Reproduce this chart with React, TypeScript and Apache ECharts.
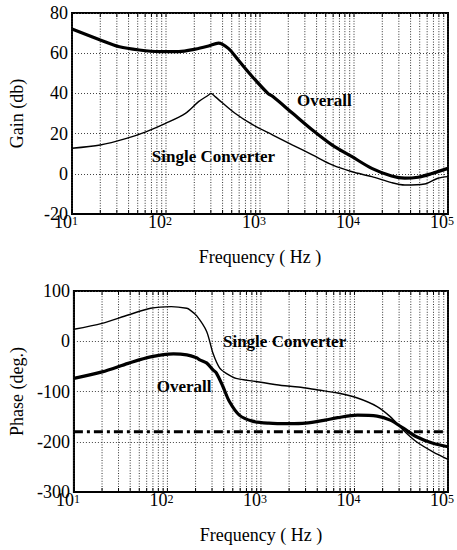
import React, { useEffect, useRef } from "react";
import * as echarts from "echarts";

// ---- data ----
const gainOverall: [number, number][] = [
  [10, 72], [20, 66.6], [32, 63.2], [52, 61.6], [84, 60.8], [137, 60.8], [205, 62],
  [284, 63.6], [361, 65], [460, 62.4], [587, 56.6], [830, 48.3], [1213, 40], [1370, 38.4],
  [2225, 30.1], [3610, 21.8], [5870, 14.3], [9530, 8.5], [15460, 2.7], [25100, -1.1],
  [34700, -2.2], [48000, -1.7], [66200, 0], [100000, 2.7],
];
const gainSingle: [number, number][] = [
  [10, 12.7], [20, 14.3], [38, 17.6], [61, 20.9], [99, 25.1], [161, 30.1], [222, 35.9],
  [284, 39.2], [300, 40], [333, 38.4], [542, 30.1], [843, 24.3], [1370, 19.3], [2225, 14.3],
  [3610, 9.4], [5870, 4.4], [9530, 1.0], [15460, -1.4], [25100, -4.4], [34700, -5.6],
  [56300, -5.1], [78000, -2.2], [100000, -1.4],
];
const phaseSingle: [number, number][] = [
  [10, 23.8], [20, 35.7], [38, 52.2], [66, 65.6], [110, 69], [161, 65.6], [175, 62],
  [205, 51], [262, 20], [307, -24], [361, -53], [425, -64], [542, -74], [879, -80],
  [1663, -88], [2512, -91], [4077, -97], [6620, -103], [10760, -113], [17460, -130],
  [24100, -150], [33300, -177], [46000, -200], [69000, -220], [100000, -235],
];
const phaseOverall: [number, number][] = [
  [10, -74], [20, -61], [38, -44], [66, -31], [116, -25], [161, -27], [205, -33], [222, -37],
  [262, -43], [307, -57], [333, -63], [392, -90], [460, -120], [587, -147], [810, -159],
  [1213, -163], [1972, -164], [2980, -163], [4830, -157], [6620, -152], [10760, -147],
  [17460, -149], [24100, -157], [33300, -173], [46000, -190], [69000, -203], [100000, -210],
];
const phaseMarginLine: [number, number][] = [[10, -180], [100000, -180]];

const decades = [10, 100, 1000, 10000];
const multipliers = [1, 2, 3, 4, 5, 6, 7, 8, 9];
const gridFreqs: number[] = [];
decades.forEach((d) => multipliers.forEach((m) => gridFreqs.push(d * m)));
gridFreqs.push(100000);

const gainRange = { min: -20, max: 80, interval: 20 };
const phaseRange = { min: -300, max: 100, interval: 100 };

const FONT = "'Liberation Serif', 'Times New Roman', serif";

export default function App() {
  const ref = useRef<HTMLDivElement>(null);
  useEffect(() => {
    if (!ref.current) return;
    const chart = echarts.init(ref.current, undefined, { renderer: "svg" });

    const xLabel = {
      margin: 1,
      padding: [0, 12, 0, 0],
      formatter: (v: number) => `{a|10}{s|${Math.round(Math.log10(v))}}`,
      rich: {
        a: { fontSize: 18, fontFamily: FONT, color: "#000", lineHeight: 14 },
        s: { fontSize: 12, fontFamily: FONT, color: "#000", verticalAlign: "top", lineHeight: 9 },
      },
    };
    const xAxisBase = (gridIndex: number) => ({
      type: "log",
      logBase: 10,
      min: 10,
      max: 100000,
      gridIndex,
      axisLine: { show: true, onZero: false, lineStyle: { color: "#000", width: 2 } },
      axisTick: { show: false },
      splitLine: { show: false },
      axisLabel: xLabel,
      name: "Frequency ( Hz )",
      nameLocation: "middle",
      nameGap: 34,
      nameTextStyle: { fontFamily: FONT, fontSize: 18, color: "#000" },
    });
    const yAxisBase = (gridIndex: number, r: any, name: string) => ({
      type: "value",
      gridIndex,
      min: r.min,
      max: r.max,
      interval: r.interval,
      axisLine: { show: true, lineStyle: { color: "#000", width: 2 } },
      axisTick: { show: false },
      splitLine: { show: true, lineStyle: { color: "#444", width: 1, type: [1, 2] } },
      axisLabel: { fontFamily: FONT, fontSize: 18, color: "#000", margin: 4, lineHeight: 14 },
      name,
      nameLocation: "middle",
      nameGap: 46,
      nameTextStyle: { fontFamily: FONT, fontSize: 18, color: "#000" },
    });

    const gridLines = (idx: number) => ({
      type: "custom",
      xAxisIndex: idx,
      yAxisIndex: idx,
      silent: true,
      z: 1,
      data: gridFreqs.map((f) => [f, 0]),
      encode: { x: 0, y: 1 },
      renderItem: (params: any, api: any) => {
        const x = api.coord([api.value(0), 0])[0];
        const cs = params.coordSys;
        return {
          type: "group",
          children: [
            {
              type: "line",
              shape: { x1: x, y1: cs.y, x2: x, y2: cs.y + cs.height },
              style: { stroke: "#333", lineWidth: 1, lineDash: [1, 1.6] },
            },
            {
              type: "line",
              shape: { x1: x, y1: cs.y, x2: x, y2: cs.y + 4 },
              style: { stroke: "#000", lineWidth: 1 },
            },
            {
              type: "line",
              shape: { x1: x, y1: cs.y + cs.height - 4, x2: x, y2: cs.y + cs.height },
              style: { stroke: "#000", lineWidth: 1 },
            },
          ],
        };
      },
    });

    const labelStyle = {
      show: true,
      position: "inside",
      fontFamily: FONT,
      fontWeight: "bold",
      fontSize: 17,
      color: "#000",
    };
    const note = (text: string, coord: [number, number]) => ({
      coord,
      symbol: "circle",
      symbolSize: 0,
      label: { ...labelStyle, formatter: text },
    });

    chart.setOption({
      animation: false,
      backgroundColor: "#fff",
      grid: [
        { left: 72, top: 13, right: 5, height: 201, show: true, borderColor: "#000", borderWidth: 2, backgroundColor: "transparent" },
        { left: 72, top: 291, right: 5, height: 201, show: true, borderColor: "#000", borderWidth: 2, backgroundColor: "transparent" },
      ],
      xAxis: [xAxisBase(0), xAxisBase(1)],
      yAxis: [yAxisBase(0, gainRange, "Gain (db)"), yAxisBase(1, phaseRange, "Phase (deg.)")],
      series: [
        gridLines(0),
        gridLines(1),
        {
          type: "line",
          name: "Gain Overall",
          xAxisIndex: 0,
          yAxisIndex: 0,
          data: gainOverall,
          showSymbol: false,
          smooth: 0.3,
          z: 3,
          lineStyle: { color: "#000", width: 3.2 },
          markPoint: { silent: true, data: [note("Overall", [4830, 36.7])] },
        },
        {
          type: "line",
          name: "Gain Single",
          xAxisIndex: 0,
          yAxisIndex: 0,
          data: gainSingle,
          showSymbol: false,
          smooth: 0.3,
          z: 3,
          lineStyle: { color: "#000", width: 1.4 },
          markPoint: { silent: true, data: [note("Single Converter", [320, 8.4])] },
        },
        {
          type: "line",
          name: "Phase Single",
          xAxisIndex: 1,
          yAxisIndex: 1,
          data: phaseSingle,
          showSymbol: false,
          smooth: 0.3,
          z: 3,
          lineStyle: { color: "#000", width: 1.4 },
          markPoint: { silent: true, data: [note("Single Converter", [1790, -1])] },
        },
        {
          type: "line",
          name: "Phase Overall",
          xAxisIndex: 1,
          yAxisIndex: 1,
          data: phaseOverall,
          showSymbol: false,
          smooth: 0.3,
          z: 3,
          lineStyle: { color: "#000", width: 3.2 },
          markPoint: { silent: true, data: [note("Overall", [151, -90.4])] },
        },
        {
          type: "line",
          name: "-180",
          xAxisIndex: 1,
          yAxisIndex: 1,
          data: phaseMarginLine,
          showSymbol: false,
          z: 2,
          lineStyle: { color: "#000", width: 3, type: [9, 4, 3, 4] },
        },
      ],
    });
    return () => chart.dispose();
  }, []);
  return (
    <div
      ref={ref}
      style={{ position: "fixed", left: 0, top: 0, width: 457, height: 550, background: "#fff" }}
    />
  );
}
